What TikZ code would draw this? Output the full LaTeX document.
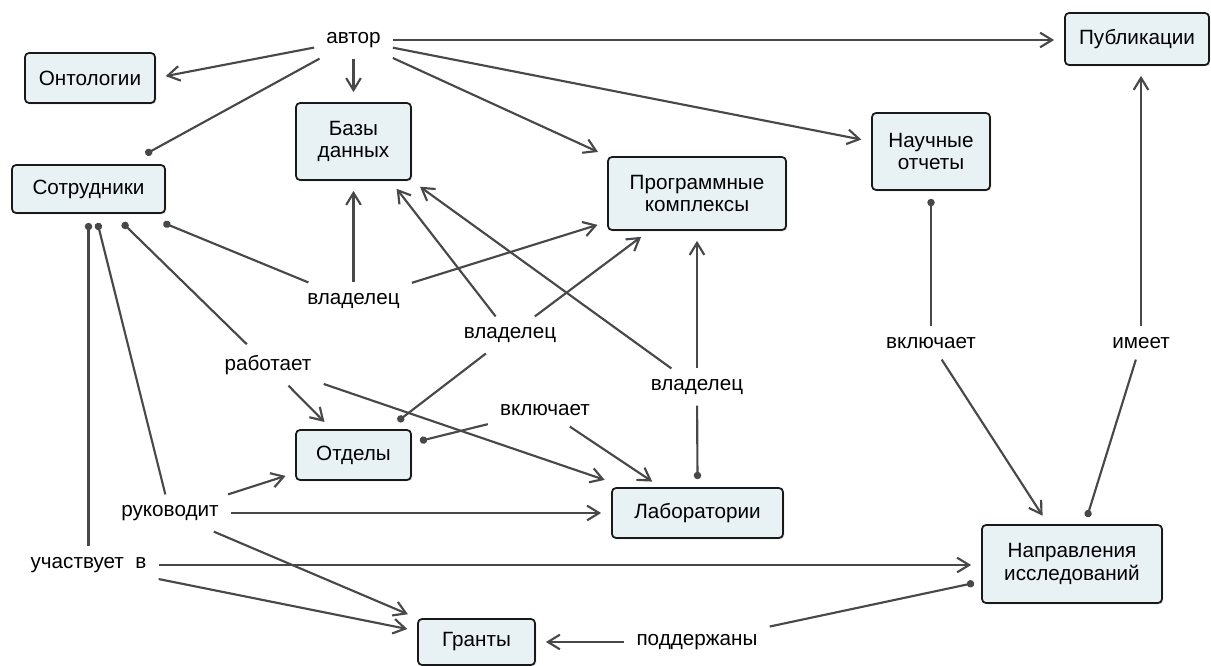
\documentclass[tikz,border=0pt]{standalone}
\usepackage{fontspec}
\setmainfont{Liberation Sans}
\usetikzlibrary{arrows.meta,calc,shadows}
\definecolor{conceptfill}{RGB}{232,242,245}
\definecolor{linkgray}{RGB}{72,72,72}

\begin{document}
\begin{tikzpicture}[x=0.75pt,y=-0.75pt,
  font=\fontsize{15.5}{17}\selectfont,
  concept/.style={draw=black!90,line width=1.3pt,fill=conceptfill,
    rounded corners=3pt,align=center,inner sep=0pt,
    drop shadow={shadow xshift=1pt,shadow yshift=-1pt,opacity=0.25}},
  boxsize/.style 2 args={minimum width=#1*0.75pt,minimum height=#2*0.75pt},
  linkword/.style={inner xsep=9pt,inner ysep=8pt},
  rel/.style={draw=linkgray,line width=1.6pt},
  arr/.style={rel,-{Straight Barb[length=9pt,width=11pt]},shorten >=7.5pt},
  dotlink/.style={rel,{Circle[length=5.5pt]}-}]
  \useasboundingbox (0,0) rectangle (1211,666);

  \node[concept,boxsize={130}{50}] (ont) at (90,78) {Онтологии};
  \node[concept,boxsize={153}{48}] (sotr) at (88.5,189) {Сотрудники};
  \node[concept,boxsize={115}{77}] (bd) at (353.5,141.5) {Базы\\данных};
  \node[concept,boxsize={178}{73}] (pk) at (697,193.5) {Программные\\комплексы};
  \node[concept,boxsize={118}{77}] (no) at (931,151.5) {Научные\\отчеты};
  \node[concept,boxsize={144}{52}] (pub) at (1137,39) {Публикации};
  \node[concept,boxsize={115}{50}] (otd) at (353.5,455) {Отделы};
  \node[concept,boxsize={171}{50}] (lab) at (697.5,513) {Лаборатории};
  \node[concept,boxsize={180}{78}] (nap) at (1072,564) {Направления\\исследований};
  \node[concept,boxsize={117}{46}] (gr) at (476.5,642) {Гранты};

  \node[linkword] (avtor) at (353.5,40) {автор};
  \node[linkword] (vlad1) at (353.5,301) {владелец};
  \node[linkword] (vlad2) at (510,335) {владелец};
  \node[linkword] (vlad3) at (697,387) {владелец};
  \node[linkword] (rab) at (268,365) {работает};
  \node[linkword] (vkl1) at (545,410) {включает};
  \node[linkword] (ruk) at (170,513) {руководит};
  \node[linkword] (uch) at (88.5,565) {участвует\ \ в};
  \node[linkword] (vkl2) at (931,343) {включает};
  \node[linkword] (imeet) at (1141,343) {имеет};
  \node[linkword] (podd) at (697,642) {поддержаны};

  \draw[arr] (avtor) -- (ont.east);
  \draw[dotlink] ($(sotr.north)+(57,-10)$) -- (avtor);
  \draw[arr] (avtor) -- (bd.north);
  \draw[arr] (avtor) -- (avtor -| pub.west);
  \draw[arr] (avtor) -- (pk.north west);
  \draw[arr] (avtor) -- ($(no.west)+(0,-10)$);

  \draw[dotlink] ($(sotr.south)+(75,9)$) -- (vlad1);
  \draw[arr] (vlad1) -- (bd.south);
  \draw[arr] (vlad1) -- ($(pk.south west)+(0,-9)$);
  \draw[arr] (vlad2) -- ($(bd.south)+(37,0)$);
  \draw[arr] (vlad2) -- ($(pk.south west)+(42,0)$);
  \draw[dotlink] ($(otd.north east)+(-14,-8)$) -- (vlad2);
  \draw[arr] (vlad3) -- (bd.south east);
  \draw[arr] (vlad3) -- (pk.south);
  \draw[dotlink] ($(lab.north)+(0,-8)$) -- (vlad3);

  \draw[dotlink] ($(sotr.south)+(34,9)$) -- (rab);
  \draw[arr] (rab) -- ($(otd.north)+(-22,0)$);
  \draw[arr] (rab) -- ($(lab.north west)+(3,-4)$);
  \draw[dotlink] ($(otd.east)+(8,-14)$) -- (vkl1);
  \draw[arr] (vkl1) -- ($(lab.north)+(-37,0)$);

  \draw[dotlink] ($(sotr.south)+(9,9)$) -- (ruk);
  \draw[arr] (ruk) -- ($(otd.south west)+(0,-8)$);
  \draw[arr] (ruk) -- (lab.west);
  \draw[arr] (ruk) -- (gr.north west);
  \draw[dotlink] ($(sotr.south)+(0,9)$) -- (uch);
  \draw[arr] (uch) -- (uch -| nap.west);
  \draw[arr] (uch) -- ($(gr.west)+(0,-11)$);

  \draw[dotlink] ($(no.south)+(0,8)$) -- (vkl2);
  \draw[arr] (vkl2) -- ($(nap.north)+(-24,0)$);
  \draw[dotlink] ($(nap.north)+(15,-7)$) -- (imeet);
  \draw[arr] (imeet) -- (imeet |- pub.south);
  \draw[dotlink] ($(nap.west)+(-7,19)$) -- (podd);
  \draw[arr] (podd) -- (podd -| gr.east);
\end{tikzpicture}
\end{document}
